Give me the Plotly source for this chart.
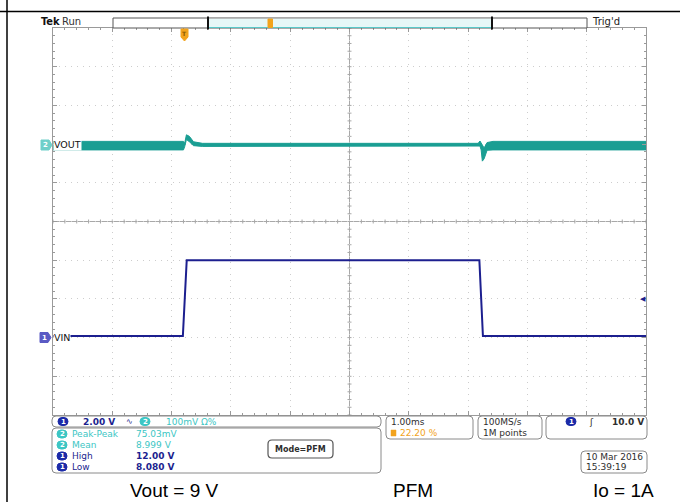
import plotly.graph_objects as go

# ---------------- data ----------------
# time axis in ms (1.00 ms/div, trigger at 22.20 % of screen)
x_range = [-2.22, 7.78]

# Channel 1: VIN (V), 2.00 V/div
vin_t = [-2.22, -0.03, 0.035, 4.97, 5.03, 7.78]
vin_v = [8.08, 8.08, 12.00, 12.00, 8.08, 8.08]

# Channel 2: VOUT envelope (V), 100 mV/div
vout_t  = [-2.22, -0.02, 0.00, 0.03, 0.08, 0.15, 0.30, 4.95, 4.98, 5.00, 5.02, 5.05, 5.10, 5.20, 7.78]
vout_hi = [9.007, 9.007, 9.002, 9.024, 9.020, 9.006, 9.002, 9.002, 9.008, 9.002, 8.998, 8.990, 9.004, 9.007, 9.007]
vout_lo = [8.985, 8.985, 8.993, 9.012, 9.006, 8.996, 8.994, 8.994, 8.995, 8.985, 8.956, 8.962, 8.984, 8.985, 8.985]

vin_range = [4, 24]        # 2 V/div, 10 div
vout_range = [8.3, 9.3]    # 100 mV/div, 10 div
trig_level = 10.0

ch_readout = ["2.00 V", "100mV Ω%"]
meas_names = ["Peak-Peak", "Mean", "High", "Low"]
meas_vals = ["75.03mV", "8.999 V", "12.00 V", "8.080 V"]
meas_ch = ["2", "2", "1", "1"]
captions = ["Vout = 9 V", "PFM", "Io = 1A"]

# ---------------- helpers ----------------
W, H = 680, 502
def X(p): return p / W
def Y(p): return 1 - p / H

TEAL = "#1a9e93"
TEAL_L = "#3cc6c4"
NAVY = "#1c1f8f"
BLUE_OV = "#1b2aa8"
ORANGE = "#f2a31c"
DARK = "#2e2e2e"
GRID = "#cdcdcd"
FONT = "DejaVu Sans"

shapes = []
annotations = []

def rrect(x0, y0, x1, y1, r=4, line="#8a8a8a", fill="white", lw=1):
    rx, ry = r / W, r / H
    a0, b0, a1, b1 = X(x0), Y(y0), X(x1), Y(y1)
    path = (f"M {a0+rx},{b0} L {a1-rx},{b0} Q {a1},{b0} {a1},{b0-ry} "
            f"L {a1},{b1+ry} Q {a1},{b1} {a1-rx},{b1} L {a0+rx},{b1} "
            f"Q {a0},{b1} {a0},{b1+ry} L {a0},{b0-ry} Q {a0},{b0} {a0+rx},{b0} Z")
    shapes.append(dict(type="path", xref="paper", yref="paper", path=path,
                       line=dict(color=line, width=lw), fillcolor=fill, layer="above"))

def rect(x0, y0, x1, y1, line="#555", fill="white", lw=1):
    shapes.append(dict(type="rect", xref="paper", yref="paper", x0=X(x0), x1=X(x1),
                       y0=Y(y1), y1=Y(y0), line=dict(color=line, width=lw),
                       fillcolor=fill, layer="above"))

def line(x0, y0, x1, y1, color="#000", lw=1):
    shapes.append(dict(type="line", xref="paper", yref="paper", x0=X(x0), x1=X(x1),
                       y0=Y(y0), y1=Y(y1), line=dict(color=color, width=lw), layer="above"))

def text(x, y, s, color=DARK, size=9, anchor="left", family=FONT, bg=None):
    d = dict(x=X(x), y=Y(y), xref="paper", yref="paper", text=s, showarrow=False,
             xanchor=anchor, yanchor="middle", borderpad=0,
             font=dict(family=family, size=size, color=color))
    if bg:
        d["bgcolor"] = bg
    annotations.append(d)

def oval(xc, yc, s, fill):
    rrect(xc - 5, yc - 4, xc + 5, yc + 4, r=4, line=fill, fill=fill)
    text(xc, yc, f"<b>{s}</b>", color="white", size=7, anchor="center")

# ---------------- traces ----------------
fig = go.Figure()
fig.add_trace(go.Scatter(x=vout_t, y=vout_hi, yaxis="y2", mode="lines",
                         line=dict(color=TEAL, width=1), hoverinfo="skip", showlegend=False))
fig.add_trace(go.Scatter(x=vout_t, y=vout_lo, yaxis="y2", mode="lines", fill="tonexty",
                         fillcolor=TEAL, line=dict(color=TEAL, width=1),
                         hoverinfo="skip", showlegend=False))
fig.add_trace(go.Scatter(x=vin_t, y=vin_v, mode="lines",
                         line=dict(color=NAVY, width=2), hoverinfo="skip", showlegend=False))

# ---------------- graticule centre lines with ticks ----------------
xc = (x_range[0] + x_range[1]) / 2
yc = (vin_range[0] + vin_range[1]) / 2
shapes.append(dict(type="line", xref="x", yref="paper", x0=xc, x1=xc, y0=Y(415), y1=Y(28),
                   line=dict(color="#a8a8a8", width=1), layer="below"))
shapes.append(dict(type="line", xref="paper", yref="y", x0=X(53), x1=X(646), y0=yc, y1=yc,
                   line=dict(color="#a8a8a8", width=1), layer="below"))
for k in range(51):
    tx = x_range[0] + 0.2 * k
    shapes.append(dict(type="line", xref="x", yref="paper", x0=tx, x1=tx,
                       y0=Y(221.5 + 2), y1=Y(221.5 - 2),
                       line=dict(color="#a8a8a8", width=1), layer="below"))
    ty = vin_range[0] + 0.4 * k
    shapes.append(dict(type="line", xref="paper", yref="y", x0=X(349.5 - 2), x1=X(349.5 + 2),
                       y0=ty, y1=ty, line=dict(color="#a8a8a8", width=1), layer="below"))

# ---------------- outer frame / table lines ----------------
line(0, 11.5, 680, 11.5, "#000", 1.5)
line(7, 0, 7, 502, "#000", 1.5)

# ---------------- top status bar ----------------
text(40, 22, "<b>Tek</b>", color="#111", size=11, family="DejaVu Sans Condensed")
text(61, 22, "Run", color="#333", size=10)
rect(113, 18, 587, 28, line="#555", fill="white")
rect(208, 19, 492, 27.5, line="#e6f7f7", fill="#e6f7f7", lw=0.5)
line(208, 27.5, 492, 27.5, "#58c8c8", 1.2)
line(208, 16.5, 208, 29.5, "#111", 2)
line(492, 16.5, 492, 29.5, "#111", 2)
rect(268, 19, 272.5, 27.5, line=ORANGE, fill=ORANGE)
text(591, 22, "Trig'd", color="#222", size=10)

# trigger position marker (orange)
shapes.append(dict(type="path", xref="paper", yref="paper",
                   path=f"M {X(181)},{Y(29)} L {X(188)},{Y(29)} L {X(188)},{Y(37)} "
                        f"L {X(184.5)},{Y(41)} L {X(181)},{Y(37)} Z",
                   line=dict(color=ORANGE, width=1), fillcolor=ORANGE, layer="above"))
text(184.5, 34, "<b>T</b>", color="#8a5a00", size=6, anchor="center")

# ---------------- channel labels ----------------
shapes.append(dict(type="path", xref="paper", yref="paper",
                   path=f"M {X(41)},{Y(140)} L {X(49)},{Y(140)} L {X(52)},{Y(145)} "
                        f"L {X(49)},{Y(150)} L {X(41)},{Y(150)} Z",
                   line=dict(color="#6fcfc9", width=1), fillcolor="#6fcfc9", layer="above"))
text(45.5, 145, "<b>2</b>", color="white", size=7, anchor="center")
text(53, 145, "VOUT", color="#111", size=9.5, bg="white")

shapes.append(dict(type="path", xref="paper", yref="paper",
                   path=f"M {X(40)},{Y(332.5)} L {X(48)},{Y(332.5)} L {X(51)},{Y(337.5)} "
                        f"L {X(48)},{Y(342.5)} L {X(40)},{Y(342.5)} Z",
                   line=dict(color="#5a5ac4", width=1), fillcolor="#5a5ac4", layer="above"))
text(44.5, 337.5, "<b>1</b>", color="white", size=7, anchor="center")
text(53, 337.5, "VIN", color="#111", size=9.5, bg="white")

# trigger level arrow on right edge (channel 1 level)
annotations.append(dict(x=X(643), y=trig_level, xref="paper", yref="y", text="◀",
                        showarrow=False, xanchor="center", yanchor="middle",
                        font=dict(size=7, color=NAVY, family=FONT)))

# ---------------- readout area ----------------
rrect(52, 416, 381, 427)
oval(63, 421.5, "1", BLUE_OV)
text(82, 421.5, f"<b>{ch_readout[0]}</b>", color=NAVY, size=9)
text(125, 421.5, "∿", color=NAVY, size=8)
oval(145, 421.5, "2", TEAL_L)
text(165, 421.5, ch_readout[1], color=TEAL_L, size=9)

rrect(52, 428, 381, 473)
rows_y = [434, 445, 456, 467]
for nm, val, ch, yy in zip(meas_names, meas_vals, meas_ch, rows_y):
    col = TEAL_L if ch == "2" else NAVY
    oval(62, yy, ch, TEAL_L if ch == "2" else BLUE_OV)
    text(71, yy, nm, color=col, size=9)
    text(135, yy, f"<b>{val}</b>" if ch == "1" else val, color=col, size=9)

rrect(268, 440, 333, 458, r=4, line="#555", lw=1.2)
text(300.5, 449, "<b>Mode=PFM</b>", color=DARK, size=8, anchor="center")

rrect(386, 416, 473, 439)
text(390, 422, "1.00ms", color=DARK, size=9)
rect(391, 430, 396, 436, line=ORANGE, fill=ORANGE, lw=0.5)
text(399, 433, "22.20 %", color=ORANGE, size=9)

rrect(478, 416, 542, 439)
text(482, 422, "100MS/s", color=DARK, size=9)
text(482, 433, "1M points", color=DARK, size=9)

rrect(546, 416, 647, 439)
oval(571, 421.5, "1", BLUE_OV)
text(588, 421.5, "ʃ", color=DARK, size=9)
text(645, 421.5, "<b>10.0 V</b>", color=DARK, size=9, anchor="right")

rrect(581, 451, 647, 473)
text(585, 457, "10 Mar 2016", color=DARK, size=9)
text(585, 467, "15:39:19", color=DARK, size=9)

# ---------------- captions ----------------
for s, cx in zip(captions, [175, 413, 623]):
    text(cx, 490, s, color="#000", size=19, anchor="center", family="Liberation Sans")

# ---------------- layout ----------------
tick_col = "#9a9a9a"
fig.update_layout(
    width=W, height=H, autosize=False,
    margin=dict(l=0, r=0, t=0, b=0, pad=0),
    paper_bgcolor="white", plot_bgcolor="white",
    showlegend=False,
    xaxis=dict(domain=[X(53), X(646)], range=x_range, tick0=x_range[0], dtick=1,
               showgrid=True, gridcolor=GRID, griddash="1px,5px", gridwidth=1,
               zeroline=False, showline=True, linecolor=tick_col, linewidth=1,
               mirror="ticks", ticks="inside", ticklen=4, tickcolor=tick_col,
               showticklabels=False, fixedrange=True,
               minor=dict(dtick=0.2, tick0=x_range[0], ticks="inside", ticklen=2,
                          tickcolor=tick_col, showgrid=False)),
    yaxis=dict(domain=[Y(415), Y(28)], range=vin_range, tick0=vin_range[0], dtick=2,
               showgrid=True, gridcolor=GRID, griddash="1px,5px", gridwidth=1,
               zeroline=False, showline=True, linecolor=tick_col, linewidth=1,
               mirror="ticks", ticks="inside", ticklen=4, tickcolor=tick_col,
               showticklabels=False, fixedrange=True,
               minor=dict(dtick=0.4, tick0=vin_range[0], ticks="inside", ticklen=2,
                          tickcolor=tick_col, showgrid=False)),
    yaxis2=dict(domain=[Y(415), Y(28)], range=vout_range, overlaying="y", visible=False,
                fixedrange=True),
    shapes=shapes, annotations=annotations,
)

fig.write_html("out.html", config={"displayModeBar": False},
               post_script="document.body.style.margin='0';")
